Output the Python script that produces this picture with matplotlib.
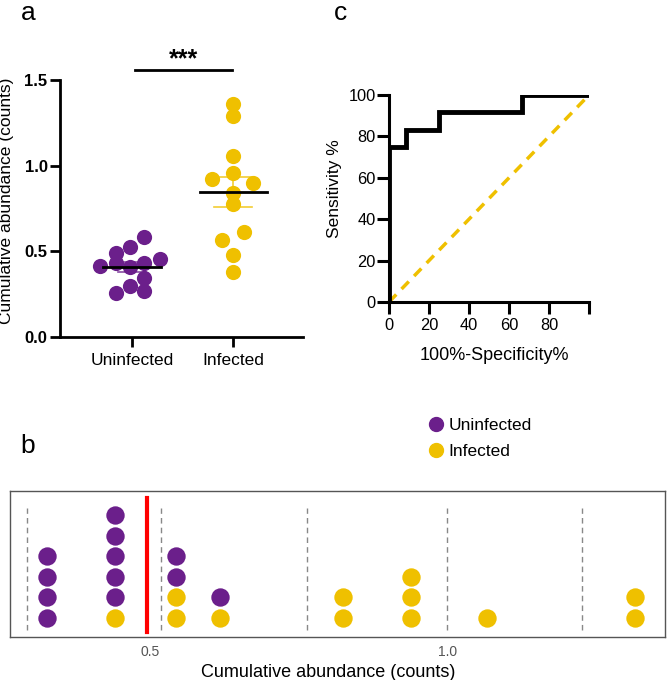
import numpy as np
import matplotlib
matplotlib.use("Agg")
import matplotlib.pyplot as plt
import matplotlib.transforms as mtransforms
from matplotlib.lines import Line2D

plt.rcParams['font.family'] = ['Liberation Sans', 'DejaVu Sans']

# ---------------- data ----------------
groups = ["Uninfected", "Infected"]
uninfected = [0.414, 0.492, 0.430, 0.527, 0.586, 0.410, 0.430, 0.454, 0.343, 0.298, 0.259, 0.270]
uninfected_offsets = [-0.31, -0.16, -0.16, -0.02, 0.12, -0.02, 0.12, 0.28, 0.12, -0.02, -0.16, 0.12]
infected = [1.358, 1.292, 1.057, 0.959, 0.922, 0.901, 0.843, 0.776, 0.615, 0.566, 0.479, 0.381]
infected_offsets = [0.0, 0.0, 0.0, 0.0, -0.21, 0.2, 0.0, 0.0, 0.106, -0.106, 0.0, 0.0]

# dot-plot bins (panel b)
bin_centers = [0.327, 0.441, 0.544, 0.618, 0.824, 0.939, 1.066, 1.315]
bin_uninfected = [4, 5, 2, 1, 0, 0, 0, 0]
bin_infected = [0, 1, 2, 1, 2, 3, 1, 2]
dashed_positions = [0.293, 0.518, 0.764, 0.999, 1.226]
cutoff = 0.495
b_ticks = [0.5, 1.0]
b_ticklabels = ["0.5", "1.0"]

# ROC curve (panel c)
roc_fpr = [0, 0, 8.33, 8.33, 25, 25, 66.7, 66.7, 100]
roc_tpr = [0, 75, 75, 83.3, 83.3, 91.7, 91.7, 100, 100]

PURPLE = "#6b1f8b"
YELLOW = "#efc000"

fig = plt.figure(figsize=(6.68, 6.80), dpi=100)
W, H = 668, 680

def ax_px(l, t, r, b):
    return fig.add_axes([l / W, 1 - b / H, (r - l) / W, (b - t) / H])

# ---------------- panel a ----------------
axa = ax_px(60, 80, 303, 337)
axa.scatter(np.array(uninfected_offsets) + 0, uninfected, s=120, color=PURPLE, zorder=3, linewidths=0)
axa.scatter(np.array(infected_offsets) + 1, infected, s=120, color=YELLOW, zorder=3, linewidths=0)
for i, (vals, col, hw, cw) in enumerate([(uninfected, PURPLE, 0.29, 0.14), (infected, YELLOW, 0.33, 0.19)]):
    v = np.array(vals)
    m = v.mean()
    sem = v.std(ddof=1) / np.sqrt(len(v))
    axa.plot([i - hw, i + hw], [m, m], color="black", lw=2, zorder=4)
    axa.plot([i, i], [m - sem, m + sem], color=col, lw=1.2, zorder=2, alpha=0.8)
    axa.plot([i - cw, i + cw], [m + sem, m + sem], color=col, lw=1.2, zorder=2, alpha=0.8)
    axa.plot([i - cw, i + cw], [m - sem, m - sem], color=col, lw=1.2, zorder=2, alpha=0.8)
axa.set_xlim(-0.71, 1.69)
axa.set_ylim(0, 1.5)
axa.set_yticks([0, 0.5, 1.0, 1.5])
axa.set_yticklabels(["0.0", "0.5", "1.0", "1.5"], fontsize=12, fontweight="bold")
axa.set_xticks([0, 1])
axa.set_xticklabels(groups, fontsize=12.5)
shift = mtransforms.ScaledTranslation(7 / 100, 0, fig.dpi_scale_trans)
for lbl in axa.get_xticklabels():
    lbl.set_transform(lbl.get_transform() + shift)
for s in ["top", "right"]:
    axa.spines[s].set_visible(False)
for s in ["left", "bottom"]:
    axa.spines[s].set_linewidth(2)
axa.tick_params(width=2, length=7.5)
axa.tick_params(axis="y", pad=1.5)
axa.tick_params(axis="x", pad=4)
axa.set_ylabel("Cumulative abundance (counts)", fontsize=12.5)
axa.yaxis.set_label_coords(-0.19, 0.53)
axa.plot([0.03, 0.99], [1.559, 1.559], color="black", lw=2, clip_on=False)
axa.text(0.51, 1.62, "***", ha="center", va="center", fontsize=18, fontweight="bold")

# ---------------- panel c ----------------
axc = ax_px(389, 95, 589, 302)
axc.plot([0, 100], [0, 100], color=YELLOW, lw=2.5, ls=(0, (3, 2.2)), zorder=2, clip_on=False)
axc.plot(roc_fpr, roc_tpr, color="black", lw=3.5, zorder=3, solid_joinstyle="miter")
axc.set_xlim(0, 100)
axc.set_ylim(0, 100)
axc.set_xticks([0, 20, 40, 60, 80, 100])
axc.set_xticklabels(["0", "20", "40", "60", "80", ""], fontsize=11.8)
axc.set_yticks([0, 20, 40, 60, 80, 100])
axc.set_yticklabels(["0", "20", "40", "60", "80", "100"], fontsize=11.8)
for s in ["top", "right"]:
    axc.spines[s].set_visible(False)
for s in ["left", "bottom"]:
    axc.spines[s].set_linewidth(2.2)
axc.tick_params(width=2.2, length=8.5)
axc.tick_params(axis="y", pad=1)
axc.tick_params(axis="x", pad=3)
axc.set_ylabel("Sensitivity %", fontsize=12.5)
axc.yaxis.set_label_coords(-0.235, 0.546)
axc.set_xlabel("100%-Specificity%", fontsize=13)
axc.xaxis.set_label_coords(0.525, -0.215)

# ---------------- panel b ----------------
axb = ax_px(10, 491, 665, 637)
for xc, nu, ni in zip(bin_centers, bin_uninfected, bin_infected):
    ys_i = np.arange(ni)
    ys_u = np.arange(ni, ni + nu)
    axb.scatter([xc] * ni, ys_i, s=175, color=YELLOW, linewidths=0, zorder=3)
    axb.scatter([xc] * nu, ys_u, s=175, color=PURPLE, linewidths=0, zorder=3)
for xd in dashed_positions:
    axb.plot([xd, xd], [-0.59, 5.36], color="#888888", lw=1, ls=(0, (4, 3)), zorder=1)
axb.plot([cutoff, cutoff], [-0.69, 5.85], color="#ff0000", lw=3, zorder=2)
axb.set_xlim(0.2647, 1.3655)
axb.set_ylim(-0.93, 6.19)
axb.set_yticks([])
axb.set_xticks(b_ticks)
axb.set_xticklabels(b_ticklabels, fontsize=10, color="#555555")
axb.tick_params(axis="x", length=0, pad=5.5)
for s in axb.spines.values():
    s.set_color("#555555")
    s.set_linewidth(1)
axb.set_xlabel("Cumulative abundance (counts)", fontsize=13)
axb.xaxis.set_label_coords(0.4855, -0.185)

handles = [Line2D([], [], marker="o", ls="", color=PURPLE, markersize=10, label="Uninfected"),
           Line2D([], [], marker="o", ls="", color=YELLOW, markersize=10, label="Infected")]
fig.legend(handles=handles, loc="upper left", bbox_to_anchor=(427 / W, 1 - 418 / H), frameon=False,
           fontsize=12.5, handletextpad=0.25, labelspacing=0.6, borderaxespad=0, borderpad=0,
           handlelength=1.0)

# panel letters
fig.text(21 / W, 1 - 20 / H, "a", fontsize=19, ha="left", va="baseline")
fig.text(20 / W, 1 - 453 / H, "b", fontsize=19, ha="left", va="baseline")
fig.text(334 / W, 1 - 20 / H, "c", fontsize=19, ha="left", va="baseline")

fig.savefig("out.png", dpi=100)
